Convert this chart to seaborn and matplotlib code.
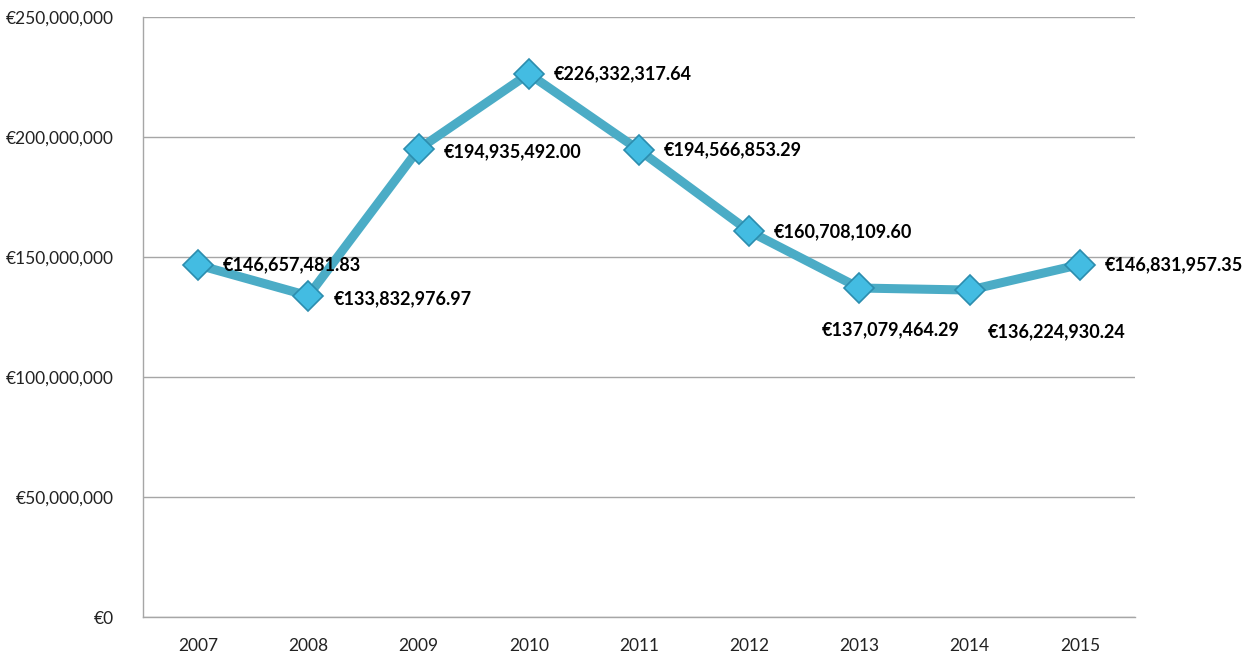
import pandas as pd
import matplotlib.pyplot as plt
import matplotlib.ticker as mticker
import seaborn as sns

years = ["2007", "2008", "2009", "2010", "2011", "2012", "2013", "2014", "2015"]
amounts = [146657481.83, 133832976.97, 194935492.00, 226332317.64, 194566853.29,
           160708109.60, 137079464.29, 136224930.24, 146831957.35]
# label offsets in points (dx, dy) relative to each marker
label_offsets = [(18, 0), (18, -2), (18, -2), (18, 0), (18, 0), (18, 0),
                 (-27, -30), (13, -30), (18, 0)]

df = pd.DataFrame({"year": years, "amount": amounts})

sns.set_style("white")
plt.rcParams["font.family"] = ["Lato", "DejaVu Sans"]

fig = plt.figure(figsize=(12.56, 6.57), dpi=100)
ax = fig.add_axes([143 / 1256, 40 / 657, (1135 - 143) / 1256, 600 / 657])

sns.lineplot(data=df, x="year", y="amount", ax=ax, color="#4BACC6", linewidth=6.5,
             marker="D", markersize=15, markerfacecolor="#43BCE2",
             markeredgecolor="#2C8DAE", markeredgewidth=1.2, sort=False)

for i, (yr, val) in enumerate(zip(years, amounts)):
    dx, dy = label_offsets[i]
    ax.annotate(f"€{val:,.2f}", (i, val), xytext=(dx, dy), textcoords="offset points",
                ha="left", va="center", fontsize=13, fontweight="bold", color="black")

ax.set_xlim(-0.5, len(years) - 0.5)
ax.set_ylim(0, 250000000)
ax.yaxis.set_major_locator(mticker.MultipleLocator(50000000))
ax.yaxis.set_major_formatter(mticker.FuncFormatter(lambda v, p: f"€{v:,.0f}"))
ax.grid(axis="y", color="#A6A6A6", linewidth=1)
ax.set_axisbelow(True)
for s in ["top", "right"]:
    ax.spines[s].set_visible(False)
for s in ["left", "bottom"]:
    ax.spines[s].set_color("#A6A6A6")
    ax.spines[s].set_linewidth(1)
ax.tick_params(axis="both", length=0, labelsize=12.5, colors="#222222")
ax.tick_params(axis="y", pad=21)
ax.tick_params(axis="x", pad=15)
ax.set_xlabel("")
ax.set_ylabel("")

plt.savefig("out.png", dpi=100)
